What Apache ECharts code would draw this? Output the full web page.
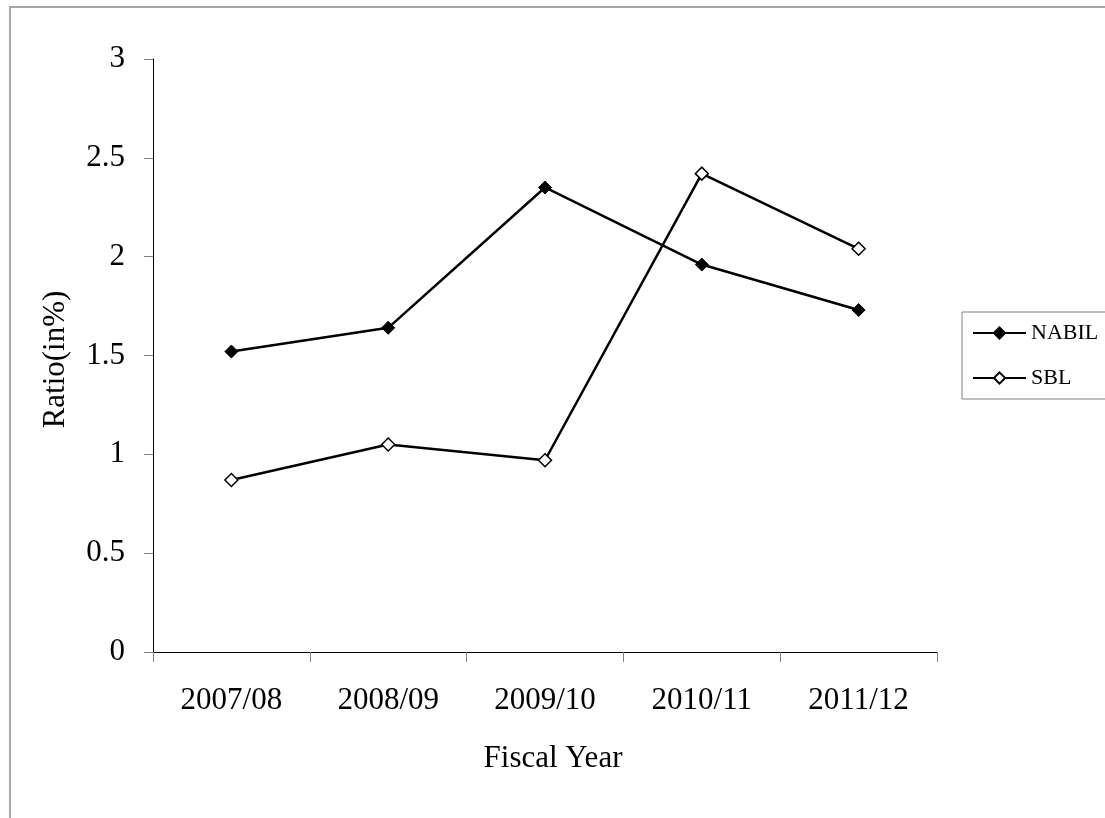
<!DOCTYPE html>
<html>
<head>
<meta charset="utf-8">
<script src="https://cdn.jsdelivr.net/npm/echarts@6/dist/echarts.min.js"></script>
<style>
  html, body { margin: 0; padding: 0; background: #fff; }
  #chart { width: 1105px; height: 818px; }
</style>
</head>
<body>
<div id="chart"></div>
<script>
// Fiscal years on the category axis
const fiscalYears = ['2007/08', '2008/09', '2009/10', '2010/11', '2011/12'];
// Ratio (in %) for each bank
const nabilValues = [1.52, 1.64, 2.35, 1.96, 1.73];
const sblValues = [0.87, 1.05, 0.97, 2.42, 2.04];

const serif = "'Liberation Serif', 'Times New Roman', serif";

const chart = echarts.init(document.getElementById('chart'), null, { renderer: 'canvas' });

chart.setOption({
  animation: false,
  backgroundColor: '#ffffff',
  textStyle: { fontFamily: serif, color: '#000' },
  graphic: [{
    type: 'rect',
    shape: { x: 10, y: 7, width: 1200, height: 1000 },
    style: { fill: 'none', stroke: '#a6a6a6', lineWidth: 2 },
    silent: true,
    z: -10
  }],
  grid: { left: 153, top: 59, right: 168, bottom: 166 },
  legend: {
    orient: 'vertical',
    left: 962,
    top: 312,
    padding: [10, 8, 10, 10],
    itemWidth: 53,
    itemHeight: 14,
    itemGap: 23,
    borderColor: '#808080',
    borderWidth: 1,
    textStyle: { fontFamily: serif, fontSize: 22, lineHeight: 22, color: '#000' },
    data: ['NABIL', 'SBL']
  },
  xAxis: {
    type: 'category',
    data: fiscalYears,
    boundaryGap: true,
    name: 'Fiscal Year',
    nameLocation: 'middle',
    nameGap: 91,
    nameTextStyle: { fontFamily: serif, fontSize: 31, color: '#000', padding: [0, 0, 0, 16] },
    axisLine: { lineStyle: { color: '#000', width: 1 } },
    axisTick: { show: true, length: 10, inside: false, lineStyle: { color: '#808080' } },
    axisLabel: { fontFamily: serif, fontSize: 31, color: '#000', margin: 33 },
    splitLine: { show: false }
  },
  yAxis: {
    type: 'value',
    min: 0,
    max: 3,
    interval: 0.5,
    name: 'Ratio(in%)',
    nameLocation: 'middle',
    nameGap: 82,
    nameTextStyle: { fontFamily: serif, fontSize: 31, color: '#000', padding: [0, 8, 0, 0] },
    axisLine: { show: true, lineStyle: { color: '#000', width: 1 } },
    axisTick: { show: true, length: 9, inside: false, lineStyle: { color: '#808080' } },
    axisLabel: { fontFamily: serif, fontSize: 31, color: '#000', margin: 28 },
    splitLine: { show: false }
  },
  series: [
    {
      name: 'NABIL',
      type: 'line',
      data: nabilValues,
      symbol: 'diamond',
      symbolSize: 13,
      showAllSymbol: true,
      lineStyle: { color: '#000', width: 2.5 },
      itemStyle: { color: '#000', borderColor: '#000', borderWidth: 1 }
    },
    {
      name: 'SBL',
      type: 'line',
      data: sblValues,
      symbol: 'diamond',
      symbolSize: 13,
      showAllSymbol: true,
      lineStyle: { color: '#000', width: 2.5 },
      itemStyle: { color: '#fff', borderColor: '#000', borderWidth: 1.5 }
    }
  ]
});
</script>
</body>
</html>
